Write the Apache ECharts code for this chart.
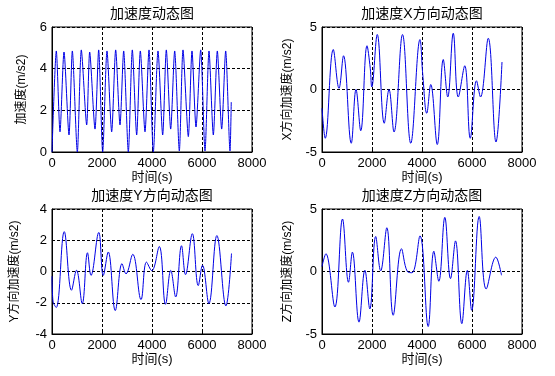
<!DOCTYPE html>
<html>
<head>
<meta charset="utf-8">
<title>加速度动态图</title>
<script src="https://cdn.jsdelivr.net/npm/echarts@6/dist/echarts.min.js"></script>
<style>
  html, body { margin: 0; padding: 0; background: #fff; }
  #chart { width: 555px; height: 376px; }
</style>
</head>
<body>
<div id="chart"></div>
<script>
// 合加速度
const magTime = [0, 173, 320, 480, 680, 813, 1013, 1173, 1387, 1507, 1720, 1867, 2027, 2200, 2387, 2547, 2720, 2867, 3053, 3213, 3387, 3533, 3720, 3880, 4053, 4240, 4427, 4573, 4747, 4907, 5093, 5240, 5453, 5600, 5760, 5947, 6120, 6280, 6453, 6613, 6787, 6947, 7120, 7170]
const magValues = [0.0, 4.85, 0.97, 4.8, 0.82, 4.85, 0.0, 4.9, 1.3, 4.8, 1.1, 4.9, 0.0, 4.85, 0.97, 4.9, 1.3, 4.85, 0.0, 4.9, 0.82, 4.85, 0.97, 4.9, 0.0, 4.85, 0.82, 4.9, 1.1, 4.85, 0.05, 4.9, 0.74, 4.85, 1.2, 4.9, 0.05, 4.85, 0.82, 4.85, 1.1, 4.85, 0.05, 2.4]
// X方向
const xTime = [0, 130, 450, 680, 860, 1170, 1360, 1550, 1800, 1930, 1990, 2210, 2490, 2680, 2880, 3220, 3550, 3920, 4030, 4190, 4350, 4610, 4850, 5030, 5250, 5450, 5710, 5930, 6180, 6340, 6650, 6960, 7200]
const xValues = [-1.5, -3.9, 3.2, 0.1, 2.7, -4.3, 0.0, -3.3, 3.5, 1.7, 0.2, 4.4, -2.7, 0.0, -3.4, 4.4, -4.3, 4.0, 1.2, -1.9, 0.4, -4.4, 2.4, -0.6, 4.5, -0.6, 1.9, -3.9, 0.7, -0.6, 4.1, -4.2, 2.2]
// Y方向
const yTime = [0, 40, 170, 490, 780, 980, 1210, 1420, 1560, 1870, 2050, 2250, 2530, 2800, 2960, 3230, 3560, 3780, 3990, 4290, 4540, 4750, 4947, 5180, 5340, 5613, 5850, 6020, 6275, 6595, 6955, 7180]
const yValues = [-0.3, -1.9, -2.3, 2.55, -1.2, 0.08, -2.05, 1.2, -0.25, 2.5, -0.25, 1.25, -2.5, 0.5, -0.15, 1.1, -1.8, 0.6, 0.05, 1.6, -2.1, 0.07, -1.63, 1.65, -0.2, 2.42, -0.9, 0.4, -2.05, 2.3, -2.2, 1.15]
// Z方向
const zTime = [0, 155, 515, 820, 1060, 1215, 1480, 1715, 1913, 2147, 2347, 2593, 2847, 3180, 3413, 3600, 3920, 4247, 4473, 4673, 4913, 5140, 5340, 5593, 5813, 5987, 6287, 6567, 6953, 7180]
const zValues = [0.4, 1.42, -2.84, 4.2, -0.86, 1.55, -4.05, 0.1, -3.0, 2.8, 0.05, 3.5, -3.5, 1.82, 0.0, -0.1, 2.85, -4.4, 1.62, -0.78, 4.33, -0.57, 2.45, -4.17, 0.09, -3.1, 4.4, -1.4, 1.15, -0.3]

const xTicks = [0, 2000, 4000, 6000, 8000]
const titles = ['加速度动态图', '加速度X方向动态图', '加速度Y方向动态图', '加速度Z方向动态图']
const yNames = ['加速度(m/s2)', 'X方向加速度(m/s2)', 'Y方向加速度(m/s2)', 'Z方向加速度(m/s2)']
const xName = '时间(s)'
const yRanges = [[0, 6, 2], [-5, 5, 5], [-4, 4, 2], [-5, 5, 5]]

const FONT = '"Liberation Sans", Arial, "Noto Sans CJK SC", sans-serif'
const grids = [
  { left: 52, top: 27, width: 200, height: 125 },
  { left: 322, top: 27, width: 200, height: 125 },
  { left: 52, top: 209, width: 200, height: 125 },
  { left: 322, top: 209, width: 200, height: 125 }
]
const yNameGaps = [24, 28, 31, 28]

function zip(ts, vs) {
  return ts.map((t, i) => [t, vs[i]])
}
const seriesData = [zip(magTime, magValues), zip(xTime, xValues), zip(yTime, yValues), zip(zTime, zValues)]

const dash = { color: '#000', width: 1, type: [3, 2] }

const chart = echarts.init(document.getElementById('chart'))
chart.setOption({
  animation: false,
  backgroundColor: '#fff',
  textStyle: { fontFamily: FONT },
  grid: grids.map(g => Object.assign({ show: true, borderColor: '#000', borderWidth: 1, backgroundColor: '#fff' }, g)),
  graphic: grids.map((g, i) => ({
    type: 'text',
    x: g.left + g.width / 2,
    y: g.top - 20,
    style: {
      text: titles[i],
      fontSize: 14,
      fontFamily: FONT,
      fill: '#000',
      align: 'center',
      textAlign: 'center'
    }
  })),
  xAxis: grids.map((g, i) => ({
    gridIndex: i,
    type: 'value',
    min: xTicks[0],
    max: xTicks[xTicks.length - 1],
    interval: 2000,
    name: xName,
    nameLocation: 'middle',
    nameGap: 17,
    nameTextStyle: { fontSize: 13, color: '#000', fontFamily: FONT },
    axisLine: { show: true, onZero: false, lineStyle: { color: '#000' } },
    axisTick: { show: true, inside: true, length: 3, lineStyle: { color: '#000' } },
    axisLabel: { fontSize: 13, color: '#000', margin: 5, fontFamily: FONT, formatter: v => String(v) },
    splitLine: { show: true, lineStyle: dash }
  })),
  yAxis: grids.map((g, i) => ({
    gridIndex: i,
    type: 'value',
    min: yRanges[i][0],
    max: yRanges[i][1],
    interval: yRanges[i][2],
    name: yNames[i],
    nameLocation: 'middle',
    nameGap: yNameGaps[i],
    nameTextStyle: { fontSize: 12, color: '#000', fontFamily: FONT },
    axisLine: { show: true, onZero: false, lineStyle: { color: '#000' } },
    axisTick: { show: true, inside: true, length: 3, lineStyle: { color: '#000' } },
    axisLabel: { fontSize: 13, color: '#000', margin: 5, fontFamily: FONT, formatter: v => String(v) },
    splitLine: { show: true, lineStyle: dash }
  })),
  series: seriesData.map((d, i) => ({
    type: 'line',
    xAxisIndex: i,
    yAxisIndex: i,
    data: d,
    smooth: i === 0 ? 0.25 : 0.4,
    showSymbol: false,
    lineStyle: { color: '#0000e6', width: 1 }
  }))
})
</script>
</body>
</html>
